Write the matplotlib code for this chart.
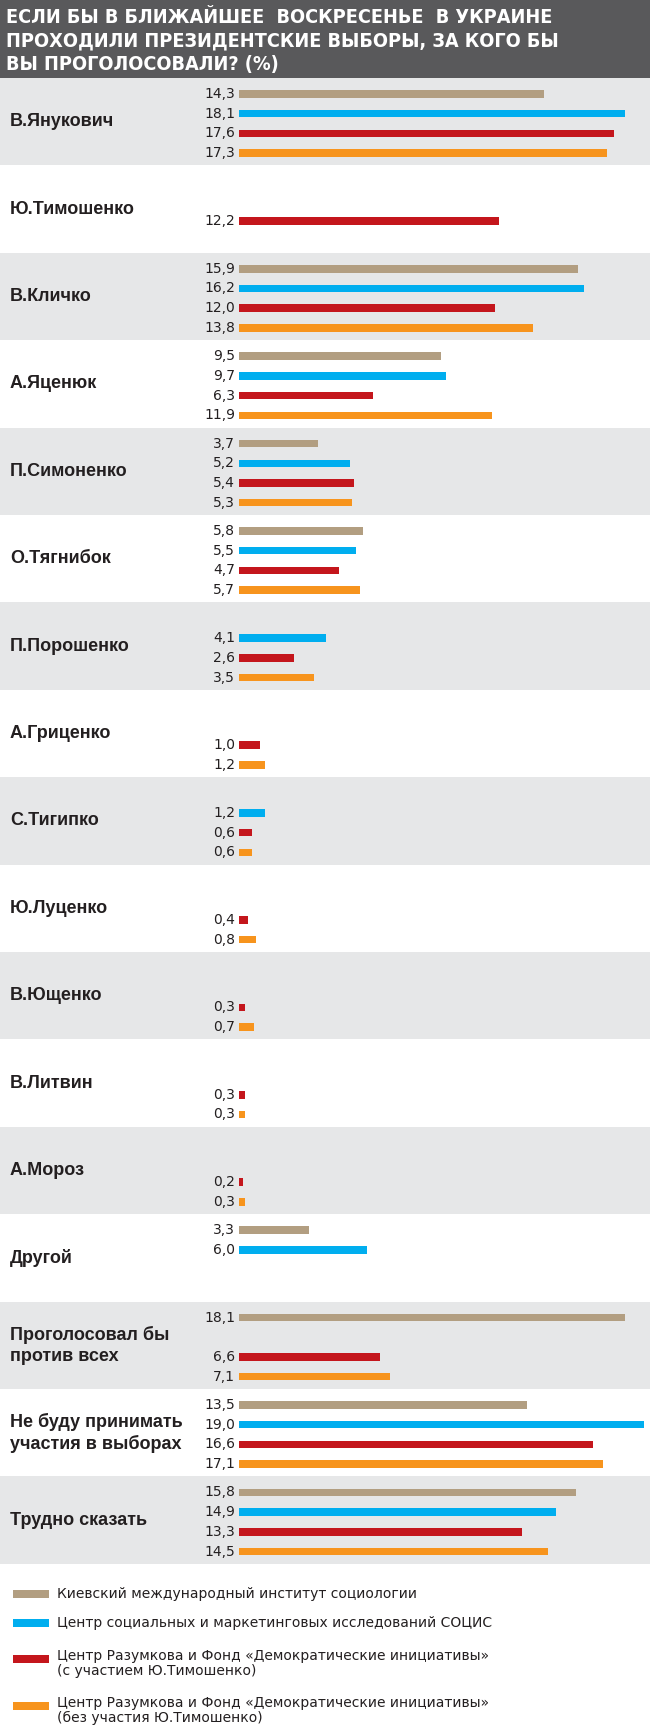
import matplotlib
matplotlib.use('Agg')
import matplotlib.pyplot as plt

# poll data: four polling organisations, None = not asked / no value
candidates = ['В.Янукович', 'Ю.Тимошенко', 'В.Кличко', 'А.Яценюк', 'П.Симоненко',
              'О.Тягнибок', 'П.Порошенко', 'А.Гриценко', 'С.Тигипко', 'Ю.Луценко',
              'В.Ющенко', 'В.Литвин', 'А.Мороз', 'Другой',
              'Проголосовал бы\nпротив всех', 'Не буду принимать\nучастия в выборах',
              'Трудно сказать']
kiis = [14.3, None, 15.9, 9.5, 3.7, 5.8, None, None, None, None, None, None, None,
        3.3, 18.1, 13.5, 15.8]
socis = [18.1, None, 16.2, 9.7, 5.2, 5.5, 4.1, None, 1.2, None, None, None, None,
         6.0, None, 19.0, 14.9]
razumkov_with = [17.6, 12.2, 12.0, 6.3, 5.4, 4.7, 2.6, 1.0, 0.6, 0.4, 0.3, 0.3, 0.2,
                 None, 6.6, 16.6, 13.3]
razumkov_without = [17.3, None, 13.8, 11.9, 5.3, 5.7, 3.5, 1.2, 0.6, 0.8, 0.7, 0.3, 0.3,
                    None, 7.1, 17.1, 14.5]
series_labels = ['Киевский международный институт социологии',
                 'Центр социальных и маркетинговых исследований СОЦИС',
                 'Центр Разумкова и Фонд «Демократические инициативы»\n(с участием Ю.Тимошенко)',
                 'Центр Разумкова и Фонд «Демократические инициативы»\n(без участия Ю.Тимошенко)']
title = 'ЕСЛИ БЫ В БЛИЖАЙШЕЕ  ВОСКРЕСЕНЬЕ  В УКРАИНЕ\nПРОХОДИЛИ ПРЕЗИДЕНТСКИЕ ВЫБОРЫ, ЗА КОГО БЫ\nВЫ ПРОГОЛОСОВАЛИ? (%)'

colors = ['#b29e81', '#00aeef', '#c4161c', '#f7941d']
series = [kiis, socis, razumkov_with, razumkov_without]

W, H = 650, 1728
x0 = 239          # pixel where value 0 sits
ppu = 21.3        # pixels per percent
fig = plt.figure(figsize=(W / 100, H / 100), dpi=100)
ax = fig.add_axes([0, 0, 1, 1])
ax.set_xlim(-x0 / ppu, (W - x0) / ppu)
ax.set_ylim(H, 0)
ax.axis('off')


def px(x):
    return (x - x0) / ppu


# title band
title_h = 78
ax.axhspan(0, title_h, color='#59595b', lw=0)
ax.text(px(6), 41, title, color='white', fontsize=14.2, fontweight='bold',
        family='DejaVu Sans', fontstretch='condensed', va='center', ha='left',
        linespacing=1.28)

row_h = 87.4
slot0, slot_gap = 16, 19.7
bar_h = 7.5
dark = '#231f20'

for i, name in enumerate(candidates):
    top = title_h + i * row_h
    if i % 2 == 0:
        ax.axhspan(top, top + row_h, color='#e6e7e8', lw=0)
    ax.text(px(10), top + row_h / 2, name, fontsize=13, fontweight='bold',
            family='Liberation Sans', color=dark, va='center', ha='left',
            linespacing=1.3)
    for k, (vals, c) in enumerate(zip(series, colors)):
        v = vals[i]
        if v is None:
            continue
        y = top + slot0 + k * slot_gap
        ax.barh(y, v, height=bar_h, left=0, color=c, lw=0)
        ax.text(px(235), y, f'{v:.1f}'.replace('.', ','), fontsize=10,
                family='DejaVu Sans', color=dark, va='center', ha='right')

# legend
leg_y = [1594, 1623, 1659, 1706]
for yy, lab, c in zip(leg_y, series_labels, colors):
    ax.barh(yy, 36 / ppu, height=bar_h, left=px(13), color=c, lw=0)
    ty = yy if '\n' not in lab else yy + 4.5
    ax.text(px(57), ty, lab, fontsize=10, family='DejaVu Sans',
            color=dark, va='center', ha='left', linespacing=1.1)

fig.savefig('out.png', dpi=100, facecolor='white')
